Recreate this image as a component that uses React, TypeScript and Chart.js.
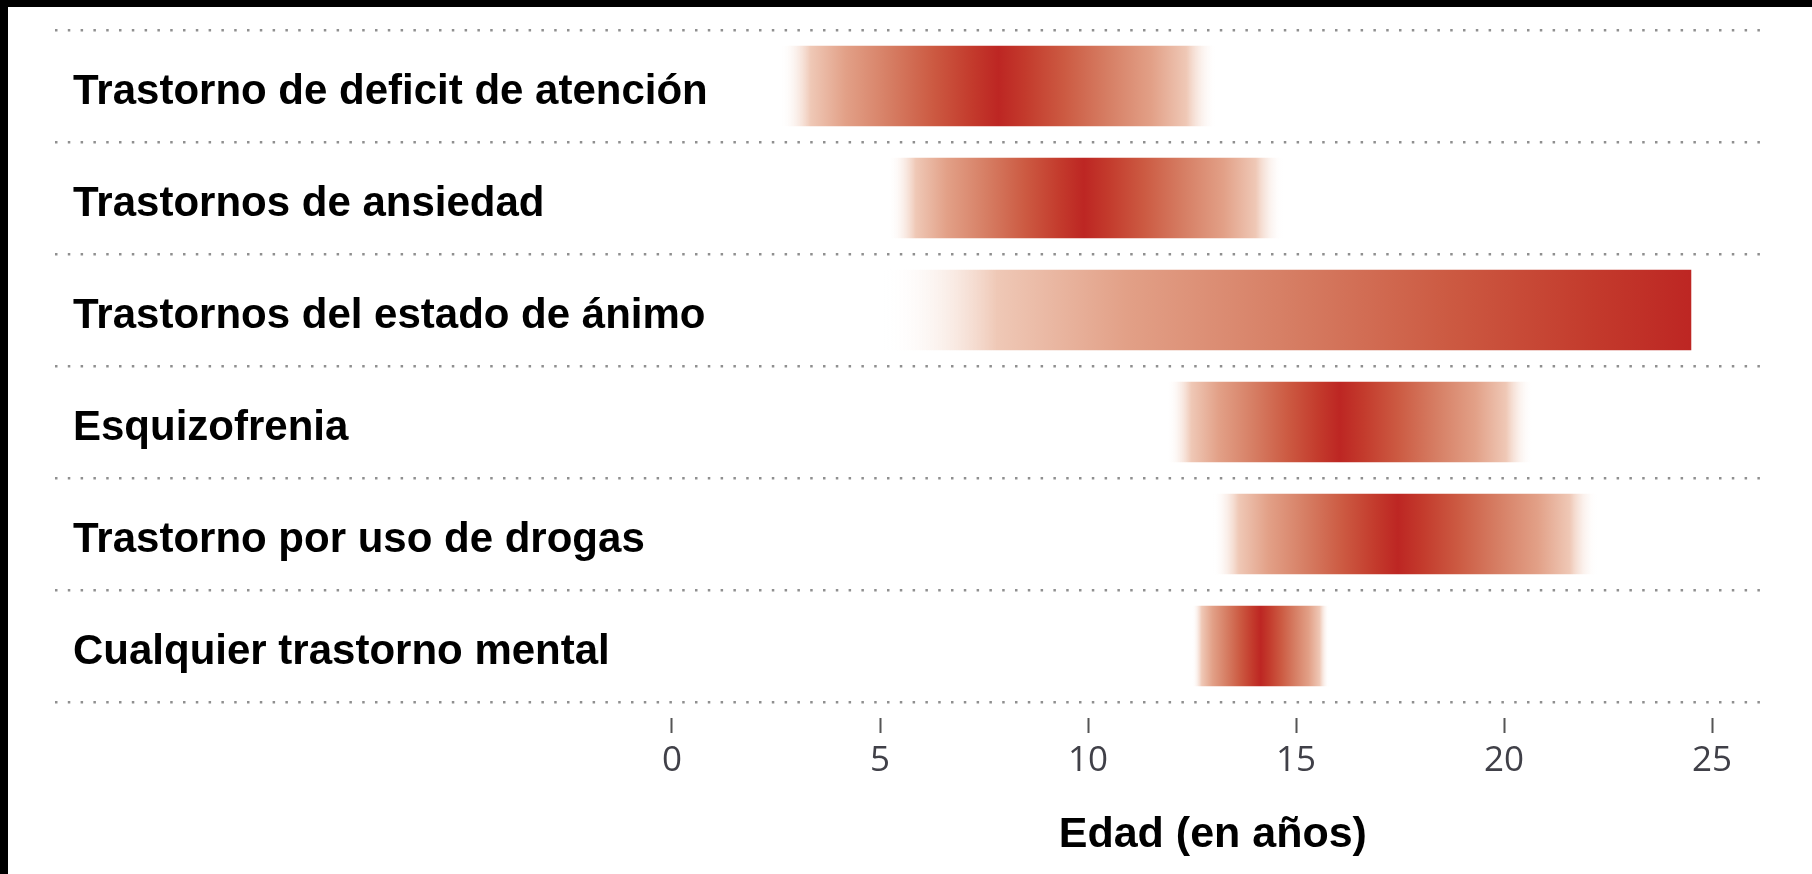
import React, { useEffect, useRef } from 'react';
import { Chart, registerables } from 'chart.js';

Chart.register(...registerables);

// ---- data ----
const categories = [
  'Trastorno de deficit de atención',
  'Trastornos de ansiedad',
  'Trastornos del estado de ánimo',
  'Esquizofrenia',
  'Trastorno por uso de drogas',
  'Cualquier trastorno mental',
];
const onsetStart = [2.6, 5.2, 5.1, 11.9, 13.0, 12.5];
const onsetPeak = [7.85, 9.9, 24.5, 16.05, 17.45, 14.15];
const onsetEnd = [13.1, 14.7, 24.5, 20.7, 22.25, 15.8];
const tickValues = [0, 5, 10, 15, 20, 25];
const axisTitle = 'Edad (en años)';
const axisTitleAt = 13;
const xMin = -14.83;
const xMax = 26.32;

// colour ramp: distance from peak (0) to edge (1)
const ramp: [number, number, number, number, number][] = [
  [0, 189, 38, 35, 1],
  [0.12, 195, 58, 44, 1],
  [0.3, 204, 90, 66, 1],
  [0.5, 214, 126, 100, 1],
  [0.7, 226, 160, 135, 1],
  [0.86, 239, 200, 182, 1],
  [1, 255, 255, 255, 0],
];
const rgba = (r: number, g: number, b: number, a: number) => `rgba(${r},${g},${b},${a})`;

function barFill(ctx: any) {
  const chart = ctx.chart;
  const xs = chart.scales?.x;
  if (!chart.chartArea || !xs) return 'rgba(0,0,0,0)';
  const i = ctx.dataIndex;
  const x0 = xs.getPixelForValue(onsetStart[i]);
  const x1 = xs.getPixelForValue(onsetEnd[i]);
  const xp = xs.getPixelForValue(onsetPeak[i]);
  if (!isFinite(x0) || !isFinite(x1) || x1 - x0 < 1) return rgba(189, 38, 35, 1);
  const p = Math.min(1, Math.max(0, (xp - x0) / (x1 - x0)));
  const g = chart.ctx.createLinearGradient(x0, 0, x1, 0);
  if (p > 0.001) {
    for (let k = ramp.length - 1; k >= 0; k--) {
      const [t, r, gg, b, a] = ramp[k];
      g.addColorStop(p * (1 - t), rgba(r, gg, b, a));
    }
  }
  if (p < 0.999) {
    for (let k = p > 0.001 ? 1 : 0; k < ramp.length; k++) {
      const [t, r, gg, b, a] = ramp[k];
      g.addColorStop(p + (1 - p) * t, rgba(r, gg, b, a));
    }
  }
  return g;
}

const titlePlugin = {
  id: 'axisTitleDraw',
  afterDraw(chart: any) {
    const xs = chart.scales.x;
    const c = chart.ctx;
    c.save();
    c.font = 'bold 43px "Liberation Sans", Arial, sans-serif';
    c.fillStyle = '#000';
    c.textAlign = 'center';
    c.textBaseline = 'alphabetic';
    c.fillText(axisTitle, xs.getPixelForValue(axisTitleAt), 840);
    c.restore();
  },
};

export default function App() {
  const ref = useRef<HTMLCanvasElement | null>(null);
  useEffect(() => {
    if (!ref.current) return;
    const chart = new Chart(ref.current, {
      type: 'bar',
      data: {
        labels: categories,
        datasets: [
          {
            data: onsetStart.map((s, i) => [s, onsetEnd[i]]) as any,
            backgroundColor: barFill as any,
            borderWidth: 0,
            barPercentage: 0.72,
            categoryPercentage: 1,
          },
        ],
      },
      options: {
        indexAxis: 'y',
        animation: false,
        responsive: true,
        maintainAspectRatio: false,
        layout: { padding: { left: 47, right: 45, top: 23, bottom: 0 } },
        plugins: { legend: { display: false }, tooltip: { enabled: false } },
        scales: {
          x: {
            type: 'linear',
            min: xMin,
            max: xMax,
            afterBuildTicks: (s: any) => {
              s.ticks = tickValues.map((v) => ({ value: v }));
            },
            afterFit: (s: any) => {
              s.height = 172;
              s.paddingLeft = 0;
              s.paddingRight = 0;
            },
            border: { display: false },
            grid: {
              display: true,
              drawOnChartArea: false,
              drawTicks: true,
              tickLength: 31,
              tickColor: '#555',
              tickWidth: 2,
              tickBorderDash: [0, 16, 15, 200],
            },
            ticks: {
              autoSkip: false,
              maxRotation: 0,
              padding: 7,
              color: '#404048',
              font: { family: '"Open Sans", sans-serif', size: 35 },
            },
          },
          y: {
            type: 'category',
            offset: true,
            afterFit: (s: any) => {
              s.width = 0;
              s.paddingTop = 0;
              s.paddingBottom = 0;
            },
            border: { display: false, dash: [2.5, 10.3], dashOffset: 0 },
            grid: {
              display: true,
              offset: true,
              drawTicks: false,
              color: '#8f8f8f',
              lineWidth: 2.5,
            } as any,
            ticks: {
              mirror: true,
              padding: 18,
              labelOffset: 6,
              color: '#000',
              font: { family: '"Liberation Sans", Arial, sans-serif', size: 42, weight: 'bold' },
            },
          },
        },
      },
      plugins: [titlePlugin],
    });
    return () => chart.destroy();
  }, []);

  return (
    <div style={{ position: 'fixed', inset: 0, background: '#000' }}>
      <div style={{ position: 'absolute', left: 8, top: 7, right: 0, bottom: 0, background: '#fff' }}>
        <canvas ref={ref} />
      </div>
    </div>
  );
}
